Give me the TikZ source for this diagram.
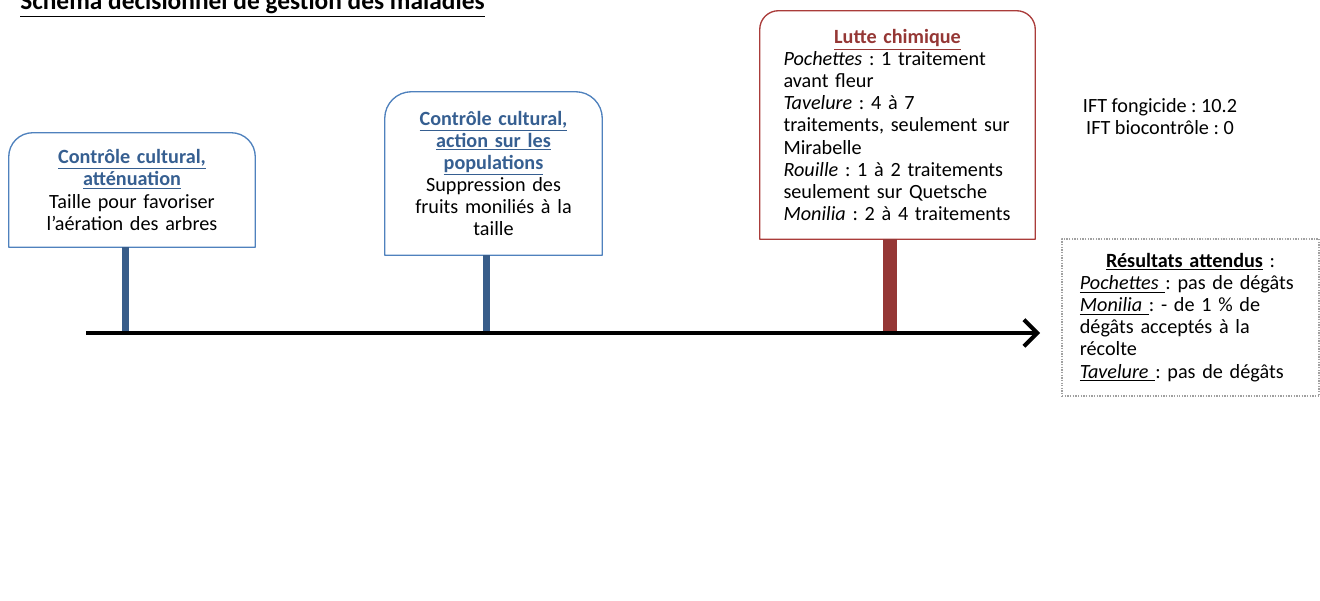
\documentclass[tikz,border=0pt]{standalone}
\usepackage{fontspec}
\setmainfont{Carlito}
\usetikzlibrary{arrows.meta}
\definecolor{bleubord}{RGB}{79,129,189}
\definecolor{bleutitre}{RGB}{54,95,145}
\definecolor{bleutige}{RGB}{56,93,138}
\definecolor{rougebord}{RGB}{170,60,58}
\definecolor{rougetitre}{RGB}{149,55,53}
\definecolor{grispoint}{RGB}{160,160,160}
\begin{document}
\frenchspacing
\begin{tikzpicture}[>=latex,line join=bevel,
  every node/.style={font=\fontsize{15.2}{16.6}\selectfont,inner sep=0pt},
  panneau/.style={draw=none,align=center},
  tigebleue/.style={draw=bleutige,line width=5.25bp},
  tigerouge/.style={draw=rougetitre,line width=10.5bp},
  ]
%%
\useasboundingbox (0bp,0bp) rectangle (990bp,450.75bp);
\node (titre) at (15bp,443.5bp) [anchor=base west,font=\fontsize{19.1}{20}\selectfont\bfseries] {\underline{Schéma décisionnel de gestion des maladies}};
%%
\node (cultA) at (99bp,308.25bp) [panneau,minimum width=184.5bp,minimum height=85.5bp,text width=178bp] {{\color{bleutitre}\bfseries\underline{Contrôle cultural,}\\ \underline{atténuation}}\\ Taille pour favoriser\\ l’aération des arbres};
\node (cultB) at (370.125bp,320.625bp) [panneau,minimum width=162.75bp,minimum height=122.25bp,text width=155bp] {{\color{bleutitre}\bfseries\underline{Contrôle cultural,}\\ \underline{action sur les}\\ \underline{populations}}\\ Suppression des\\ fruits moniliés à la\\ taille};
\node (lutte) at (673.125bp,357bp) [panneau,align=left,minimum width=206.25bp,minimum height=171bp,text width=171bp] {{\centering\color{rougetitre}\bfseries\underline{Lutte chimique}\par}
\textit{Pochettes} : 1 traitement\\ avant fleur\\ \textit{Tavelure} : 4 à 7\\ traitements, seulement sur\\ Mirabelle\\ \textit{Rouille} : 1 à 2 traitements\\ seulement sur Quetsche\\ \textit{Monilia} : 2 à 4 traitements};
\node (ift) at (870bp,363bp) [align=center] {IFT fongicide : 10.2\\ IFT biocontrôle : 0};
\node (resultats) at (892.9bp,212.6bp) [draw=grispoint,line width=1bp,densely dotted,align=left,minimum width=192.75bp,minimum height=117.75bp,text width=166bp] {{\centering\bfseries\underline{Résultats attendus}\mdseries{} :\par}
\underline{\textit{Pochettes }}: pas de dégâts\\ \underline{\textit{Monilia }}: - de 1 \% de\\ dégâts acceptés à la\\ récolte\\ \underline{\textit{Tavelure }}: pas de dégâts};
%%
\draw [bleubord,line width=1bp] (cultA.south west) [rounded corners=18bp] -- (cultA.north west) -- (cultA.north east) [sharp corners] -- (cultA.south east) -- cycle;
\draw [bleubord,line width=1bp] (cultB.south west) [rounded corners=20bp] -- (cultB.north west) -- (cultB.north east) [sharp corners] -- (cultB.south east) -- cycle;
\draw [rougebord,line width=1bp] (lutte.south west) [rounded corners=14bp] -- (lutte.north west) -- (lutte.north east) [sharp corners] -- (lutte.south east) -- cycle;
%%
\coordinate (debut) at (64.5bp,201bp);
\coordinate (fin) at (780bp,201bp);
\coordinate (jalonA) at (93.75bp,201bp);
\coordinate (jalonB) at (364.5bp,201bp);
\coordinate (jalonC) at (667.5bp,201bp);
\draw [tigebleue] (jalonA) -- (jalonA |- cultA.south);
\draw [tigebleue] (jalonB) -- (jalonB |- cultB.south);
\draw [tigerouge] (jalonC) -- (jalonC |- lutte.south);
\draw [black,line width=3bp,-{Straight Barb[length=10bp,width=20bp]}] (debut) -- (fin);
%
\end{tikzpicture}
\end{document}
